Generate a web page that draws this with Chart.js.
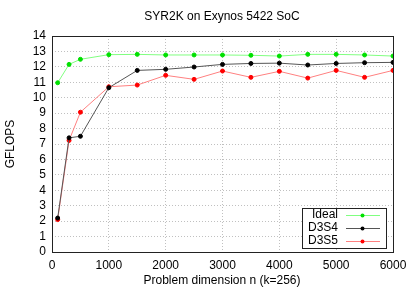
<!DOCTYPE html>
<html>
<head>
<meta charset="utf-8">
<script src="https://cdn.jsdelivr.net/npm/chart.js@4"></script>
<style>
  html, body { margin: 0; padding: 0; background: #fff; }
  #wrap { width: 415px; height: 291px; }
</style>
</head>
<body>
<div id="wrap"><canvas id="syr2k" width="415" height="291"></canvas></div>
<script>
// problem sizes n
const sizes = [100, 300, 500, 1000, 1500, 2000, 2500, 3000, 3500, 4000, 4500, 5000, 5500, 6000];
const ideal = [10.97, 12.16, 12.49, 12.79, 12.81, 12.77, 12.77, 12.77, 12.75, 12.70, 12.81, 12.81, 12.77, 12.70];
const d3s4 = [2.2, 7.4, 7.5, 10.65, 11.77, 11.84, 11.99, 12.16, 12.22, 12.24, 12.12, 12.22, 12.27, 12.29];
const d3s5 = [2.1, 7.23, 9.06, 10.71, 10.82, 11.45, 11.19, 11.73, 11.32, 11.71, 11.27, 11.77, 11.32, 11.77];
const xTicks = [0, 1000, 2000, 3000, 4000, 5000, 6000];
const yTicks = [0, 1, 2, 3, 4, 5, 6, 7, 8, 9, 10, 11, 12, 13, 14];

const FONT = 'Liberation Sans, Arial, sans-serif';

function toPoints(vals) {
  return sizes.map((n, i) => ({ x: n, y: vals[i] }));
}

const series = [
  { label: 'Ideal', data: ideal, line: '#80ff80', dot: '#00e000' },
  { label: 'D3S4', data: d3s4, line: '#555555', dot: '#000000' },
  { label: 'D3S5', data: d3s5, line: '#ff8080', dot: '#ff0000' }
];

// frame, titles and the boxed legend, gnuplot style
const decor = {
  id: 'decor',
  afterDraw(chart) {
    const ctx = chart.ctx;
    const a = chart.chartArea;
    ctx.save();
    ctx.strokeStyle = '#222';
    ctx.lineWidth = 1;
    ctx.strokeRect(a.left + 0.5, a.top + 0.5, a.right - a.left, a.bottom - a.top);

    ctx.fillStyle = '#000';
    ctx.font = '12px ' + FONT;
    ctx.textAlign = 'center';
    ctx.textBaseline = 'middle';
    ctx.fillText('SYR2K on Exynos 5422 SoC', 222, 17);
    ctx.fillText('Problem dimension n (k=256)', 222, 281);
    ctx.save();
    ctx.translate(11, 144);
    ctx.rotate(-Math.PI / 2);
    ctx.fillText('GFLOPS', 0, 0);
    ctx.restore();

    // legend
    ctx.fillStyle = '#fff';
    ctx.fillRect(302, 208, 84, 40);
    ctx.strokeStyle = '#222';
    ctx.strokeRect(302.5, 208.5, 84, 40);
    series.forEach((s, i) => {
      const y = 215 + i * 13;
      ctx.fillStyle = '#000';
      ctx.textAlign = 'right';
      ctx.fillText(s.label, 338, y);
      ctx.strokeStyle = s.line;
      ctx.beginPath();
      ctx.moveTo(346, y + 0.5);
      ctx.lineTo(380, y + 0.5);
      ctx.stroke();
      ctx.fillStyle = s.dot;
      ctx.beginPath();
      ctx.arc(362.5, y + 0.5, 2, 0, Math.PI * 2);
      ctx.fill();
    });
    ctx.restore();
  }
};

const config = {
  type: 'line',
  data: {
    datasets: series.map(s => ({
      label: s.label,
      data: toPoints(s.data),
      borderColor: s.line,
      backgroundColor: s.dot,
      pointBackgroundColor: s.dot,
      pointBorderColor: s.dot,
      pointRadius: 2,
      borderWidth: 1,
      tension: 0
    }))
  },
  options: {
    responsive: false,
    animation: false,
    layout: { padding: { top: 36, right: 22, left: 0, bottom: 0 } },
    plugins: { legend: { display: false }, title: { display: false }, tooltip: { enabled: false } },
    scales: {
      x: {
        type: 'linear',
        min: 0,
        max: 6000,
        afterBuildTicks: axis => { axis.ticks = xTicks.map(v => ({ value: v })); },
        afterFit: axis => { axis.height = 39; },
        grid: { color: '#c0c0c0', tickLength: 0, drawTicks: false },
        border: { display: false, dash: [1, 2] },
        ticks: {
          color: '#000', font: { family: FONT, size: 12 }, padding: 6, maxRotation: 0,
          autoSkip: false, callback: v => String(v)
        }
      },
      y: {
        min: 0,
        max: 14,
        afterBuildTicks: axis => { axis.ticks = yTicks.map(v => ({ value: v })); },
        afterFit: axis => { axis.width = 52; },
        grid: { color: '#c0c0c0', tickLength: 0, drawTicks: false },
        border: { display: false, dash: [1, 2] },
        ticks: {
          color: '#000', font: { family: FONT, size: 12 }, padding: 6,
          autoSkip: false, callback: v => String(v)
        }
      }
    }
  },
  plugins: [decor]
};

new Chart(document.getElementById('syr2k'), config);
</script>
</body>
</html>
